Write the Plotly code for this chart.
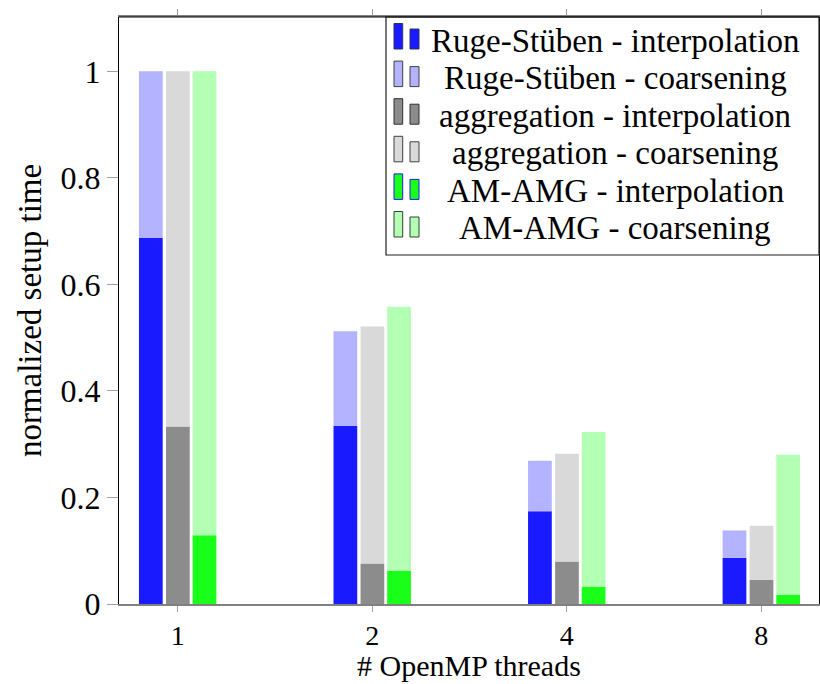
import plotly.graph_objects as go

threads = ["1", "2", "4", "8"]
rs_interp = [0.687, 0.334, 0.174, 0.087]
rs_total = [1.0, 0.512, 0.269, 0.138]
agg_interp = [0.333, 0.076, 0.080, 0.045]
agg_total = [1.0, 0.521, 0.282, 0.147]
am_interp = [0.129, 0.0625, 0.032, 0.017]
am_total = [1.0, 0.558, 0.323, 0.280]

y_ticks = [0, 0.2, 0.4, 0.6, 0.8, 1.0]
y_ticktext = ["0", "0.2", "0.4", "0.6", "0.8", "1"]

legend_names = [
    "Ruge-Stüben - interpolation",
    "Ruge-Stüben - coarsening",
    "aggregation - interpolation",
    "aggregation - coarsening",
    "AM-AMG - interpolation",
    "AM-AMG - coarsening",
]
colors = ["#1a1aff", "#b3b3ff", "#8c8c8c", "#d9d9d9", "#1aff1a", "#b3ffb3"]
legend_edges = ["#303060", "#404040", "#303030", "#404040", "#1a1aff", "#304030"]

FONT = "'Liberation Serif', 'DejaVu Serif', serif"
BW = 0.122
offsets = [-0.199, -0.060, 0.077]

fig = go.Figure()
groups = [(rs_interp, rs_total), (agg_interp, agg_total), (am_interp, am_total)]
for g, (interp, total) in enumerate(groups):
    coarse = [t - i for t, i in zip(total, interp)]
    fig.add_trace(go.Bar(x=threads, y=interp, name=legend_names[2 * g],
                         marker=dict(color=colors[2 * g], line=dict(width=0)),
                         width=BW, offset=offsets[g], showlegend=False))
    fig.add_trace(go.Bar(x=threads, y=coarse, base=interp, name=legend_names[2 * g + 1],
                         marker=dict(color=colors[2 * g + 1], line=dict(width=0)),
                         width=BW, offset=offsets[g], showlegend=False))

# plot area geometry in pixels (for the custom pgfplots-style legend)
L, R, T, B = 119, 819, 17, 604
W, H = R - L, B - T

def px(x):
    return (x - L) / W

def py(y):
    return (B - y) / H

shapes = []
annotations = []
# legend box
shapes.append(dict(type="rect", xref="paper", yref="paper",
                   x0=px(386), x1=px(819), y0=py(255), y1=py(17),
                   line=dict(color="#202020", width=1.2), fillcolor="white", layer="above"))
for i, name in enumerate(legend_names):
    bottom = 49 + 37.6 * i
    shapes.append(dict(type="rect", xref="paper", yref="paper",
                       x0=px(394), x1=px(402.7), y0=py(bottom), y1=py(bottom - 25.5),
                       line=dict(color=legend_edges[i], width=1), fillcolor=colors[i], layer="above"))
    shapes.append(dict(type="rect", xref="paper", yref="paper",
                       x0=px(410), x1=px(419), y0=py(bottom), y1=py(bottom - 20),
                       line=dict(color=legend_edges[i], width=1), fillcolor=colors[i], layer="above"))
    baseline = 50.7 + 37.5 * i
    annotations.append(dict(text=name, xref="paper", yref="paper", x=px(615), y=py(baseline - 10),
                            xanchor="center", yanchor="middle", showarrow=False,
                            font=dict(family=FONT, size=33, color="black")))
# x axis title placed below the tick labels
annotations.append(dict(text="# OpenMP threads", xref="paper", yref="paper", x=0.5, y=py(684),
                        xanchor="center", yanchor="bottom", showarrow=False,
                        font=dict(family=FONT, size=30, color="black")))
# top frame line (black)
shapes.append(dict(type="line", xref="paper", yref="paper", x0=0, x1=1, y0=1, y1=1,
                   line=dict(color="black", width=1.2), layer="above"))

fig.update_layout(
    width=820, height=684,
    margin=dict(l=L, r=820 - R, t=T, b=684 - B, autoexpand=False),
    paper_bgcolor="white", plot_bgcolor="white",
    barmode="overlay",
    font=dict(family=FONT, size=32, color="black"),
    shapes=shapes, annotations=annotations,
    xaxis=dict(type="category", range=[-0.3016, 3.2965], showgrid=False, zeroline=False,
               showline=True, linecolor="#808080", linewidth=1.5, mirror="allticks",
               ticks="outside", ticklen=6, tickcolor="#a0a0a0", tickwidth=1.3,
               automargin=False, tickfont=dict(family=FONT, size=28)),
    yaxis=dict(range=[0, 1.102], tickvals=y_ticks, ticktext=y_ticktext, showgrid=False,
               zeroline=False, showline=True, linecolor="black", linewidth=1.2, mirror=True,
               ticks="outside", ticklen=11, tickcolor="#a0a0a0", tickwidth=1.3,
               automargin=False, tickfont=dict(family=FONT, size=32),
               title=dict(text="normalized setup time", font=dict(family=FONT, size=33), standoff=8)),
)

fig.write_html("out.html")
